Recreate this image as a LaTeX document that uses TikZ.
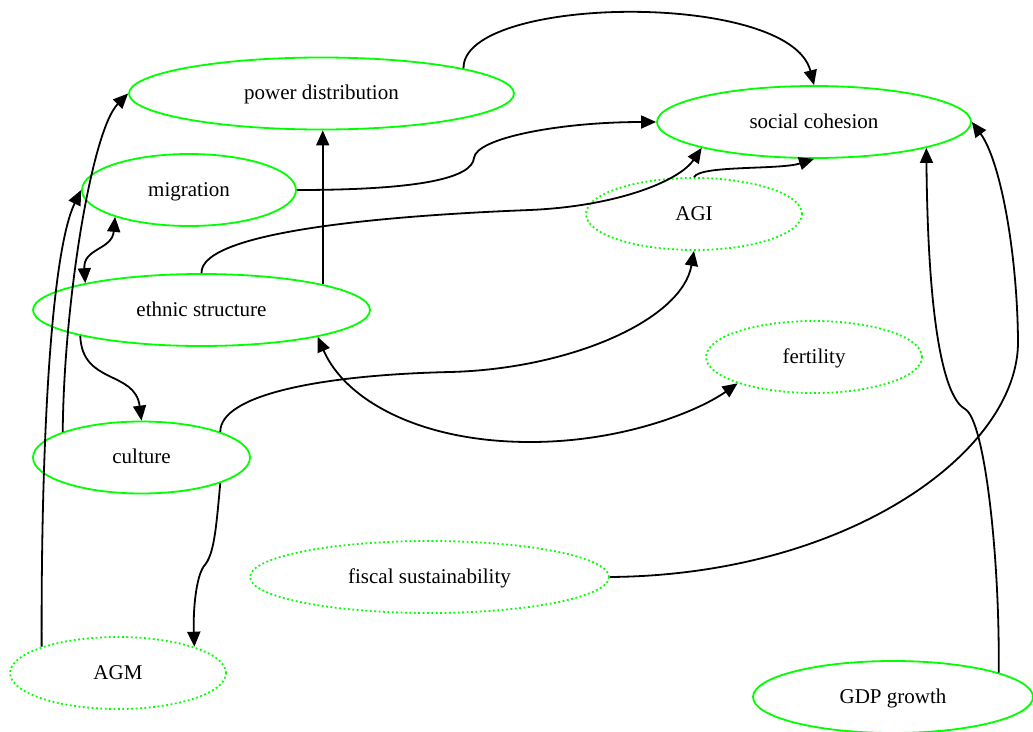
\documentclass[tikz,border=0pt]{standalone}
\usepackage{fontspec}
\setmainfont{Liberation Serif}
\usetikzlibrary{arrows.meta,shapes.geometric}
\definecolor{nodegreen}{RGB}{0,255,0}
\tikzset{
  factor/.style={ellipse, draw=nodegreen, line width=1.8pt, inner sep=0pt,
    minimum height=72pt, text height=15pt, text depth=3pt,
    font=\fontsize{21}{25}\selectfont},
  latent/.style={factor, line width=1.8pt, dash pattern=on 1.8pt off 2.6pt},
  head/.tip={Triangle[length=15pt,width=13pt]},
  link/.style={line width=1.8pt, -head},
  twoway/.style={line width=1.8pt, head-head},
}
\begin{document}
\begin{tikzpicture}[x=1pt,y=-1pt]
\useasboundingbox (0,0) rectangle (1033,731);

% factors
\node[factor, minimum width=385pt] (pd)  at (321.5,93.5) {power distribution};
\node[factor, minimum width=214pt] (mig) at (189,190)   {migration};
\node[factor, minimum width=337pt] (eth) at (201.5,310) {ethnic structure};
\node[factor, minimum width=217pt] (cul) at (141.5,457.5) {culture};
\node[latent, minimum width=216pt] (agm) at (118,673)   {AGM};
\node[latent, minimum width=359pt] (fis) at (429.5,577) {fiscal sustainability};
\node[factor, minimum width=314pt] (sc)  at (814,122)   {social cohesion};
\node[latent, minimum width=216pt] (agi) at (694,214)   {AGI};
\node[latent, minimum width=216pt] (fer) at (814,357)   {fertility};
\node[factor, minimum width=280pt] (gdp) at (893,697)   {GDP growth};

% influences
\draw[link] (pd.10) .. controls (462,-5) and (790,-10) .. (sc.north);
\draw[link] (mig.east) .. controls (420,190) and (472,178) .. (474,158)
            .. controls (476,138) and (560,122) .. (sc.west);
\draw[link] (eth.north) .. controls (200,230) and (400,215) .. (530,210)
            .. controls (620,206) and (680,180) .. (sc.193);
\draw[link] (eth.12) -- (eth.12 |- pd.south);
\draw[link] (agi.north) .. controls (700,165) and (780,170) .. (sc.south);
\draw[link] (cul.18) .. controls (220,395) and (320,375) .. (450,372)
            .. controls (570,369) and (682,320) .. (agi.south);
\draw[twoway] (eth.347) .. controls (345,400) and (420,442) .. (530,442)
              .. controls (625,442) and (700,410) .. (fer.199);
\draw[twoway] (mig.200) .. controls (112,250) and (83,248) .. (eth.167);
\draw[link] (eth.192) .. controls (82,385) and (135,370) .. (cul.north);
\draw[link] (cul.-18) .. controls (216,530) and (214,555) .. (204,566)
            .. controls (196,577) and (193,610) .. (agm.19);
\draw[link] (agm.161) .. controls (41,430) and (52,250) .. (mig.west);
\draw[link] (cul.162) .. controls (64,300) and (92,130) .. (pd.west);
\draw[link] (fis.east) .. controls (850,575) and (1020,450) .. (1018,340)
            .. controls (1017,250) and (1000,160) .. (sc.east);
\draw[link] (gdp.13) .. controls (1000,560) and (985,420) .. (965,409)
            .. controls (945,398) and (928,330) .. (sc.-13);
\end{tikzpicture}
\end{document}
